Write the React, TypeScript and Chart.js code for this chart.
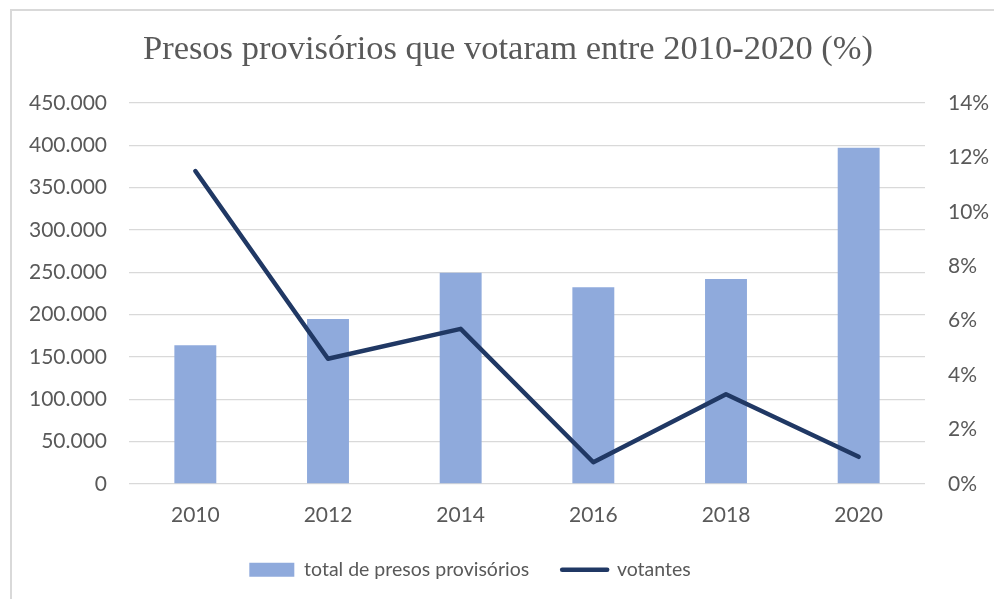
import React, { useEffect, useRef } from "react";
import { Chart, registerables } from "chart.js";

Chart.register(...registerables);

const title = "Presos provisórios que votaram entre 2010-2020 (%)";
const years = ["2010", "2012", "2014", "2016", "2018", "2020"];
const totalPresos = [164000, 195000, 249500, 232500, 242000, 397000];
const votantesPct = [11.5, 4.6, 5.7, 0.8, 3.3, 1.0];
const seriesNames = ["total de presos provisórios", "votantes"];

const TEXT = "#595959";
const GRID = "#D9D9D9";
const BAR = "#8FAADC";
const LINE = "#203864";

const fmtThousands = (v: number) =>
  String(Math.round(v)).replace(/\B(?=(\d{3})+(?!\d))/g, ".");

const frame = {
  id: "frame",
  beforeDraw(chart: any) {
    const ctx = chart.ctx;
    ctx.save();
    ctx.fillStyle = "#ffffff";
    ctx.fillRect(0, 0, chart.width, chart.height);
    ctx.strokeStyle = GRID;
    ctx.lineWidth = 2;
    ctx.strokeRect(11, 10, chart.width + 50, chart.height + 50);
    ctx.restore();
  },
  afterLayout(chart: any) {
    const t = chart.titleBlock;
    if (t) {
      t.left += 11;
      t.right += 11;
    }
    const l = chart.legend;
    if (l) {
      l.left -= 27;
      l.right -= 27;
    }
  },
};

export default function App() {
  const ref = useRef<HTMLCanvasElement>(null);
  useEffect(() => {
    document.body.style.margin = "0";
    const c = ref.current;
    if (!c) return;
    const chart = new Chart(c, {
      type: "bar",
      data: {
        labels: years,
        datasets: [
          {
            type: "bar",
            label: seriesNames[0],
            data: totalPresos,
            backgroundColor: BAR,
            borderWidth: 0,
            yAxisID: "y",
            order: 1,
            barPercentage: 0.316,
            categoryPercentage: 1,
          } as any,
          {
            type: "line",
            label: seriesNames[1],
            data: votantesPct,
            borderColor: LINE,
            backgroundColor: LINE,
            borderWidth: 4.5,
            borderCapStyle: "round",
            borderJoinStyle: "round",
            pointRadius: 0,
            pointHoverRadius: 0,
            yAxisID: "y1",
            order: 0,
          } as any,
        ],
      },
      options: {
        responsive: false,
        animation: false,
        layout: { padding: { left: 0, right: 0, top: 0, bottom: 9.5 } },
        plugins: {
          tooltip: { enabled: false },
          title: {
            display: true,
            text: title,
            color: TEXT,
            font: { family: "'Liberation Serif', 'Times New Roman', serif", size: 34.5, weight: "normal" },
            padding: { top: 29.7, bottom: 31.9 },
          },
          legend: {
            position: "bottom",
            labels: {
              color: TEXT,
              font: { family: "Lato, 'Open Sans', sans-serif", size: 19.5 },
              usePointStyle: true,
              pointStyleWidth: 45,
              boxHeight: 14,
              padding: 33,
              sort: (a: any, b: any) => a.datasetIndex - b.datasetIndex,
              generateLabels: (ch: any) => {
                const items = Chart.defaults.plugins.legend.labels.generateLabels(ch);
                return items.map((it: any) => {
                  if (it.datasetIndex === 0) {
                    return { ...it, pointStyle: "rect", fillStyle: BAR, strokeStyle: BAR, lineWidth: 0 };
                  }
                  return {
                    ...it,
                    pointStyle: "line",
                    fillStyle: LINE,
                    strokeStyle: LINE,
                    lineWidth: 4.5,
                    lineCap: "round",
                  };
                });
              },
            },
          },
        },
        scales: {
          x: {
            grid: { display: false, drawTicks: false },
            border: { display: false },
            ticks: {
              color: TEXT,
              font: { family: "Lato, 'Open Sans', sans-serif", size: 21 },
              padding: 18.4,
              maxRotation: 0,
            },
            afterFit: (s: any) => {
              s.height = 43;
            },
          },
          y: {
            position: "left",
            min: 0,
            max: 450000,
            grid: { color: GRID, lineWidth: 1.3, drawTicks: false },
            border: { display: false },
            ticks: {
              stepSize: 50000,
              color: TEXT,
              font: { family: "Lato, 'Open Sans', sans-serif", size: 21 },
              padding: 22,
              callback: (v: any) => fmtThousands(Number(v)),
            },
            afterFit: (s: any) => {
              s.width = 129;
            },
          },
          y1: {
            position: "right",
            min: 0,
            max: 14,
            grid: { drawOnChartArea: false, drawTicks: false },
            border: { display: false },
            ticks: {
              stepSize: 2,
              color: TEXT,
              font: { family: "Lato, 'Open Sans', sans-serif", size: 21 },
              padding: 23,
              callback: (v: any) => `${v}%`,
            },
            afterFit: (s: any) => {
              s.width = 69;
            },
          },
        },
      },
      plugins: [frame],
    });
    return () => chart.destroy();
  }, []);
  return (
    <div style={{ width: 994, height: 599 }}>
      <canvas ref={ref} width={994} height={599} />
    </div>
  );
}
